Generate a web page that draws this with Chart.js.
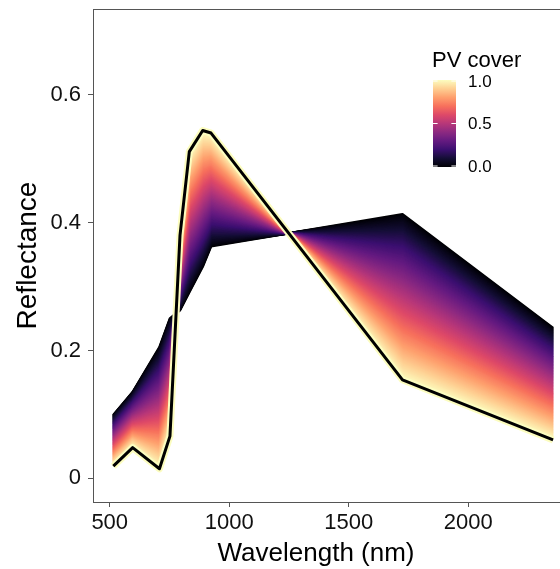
<!DOCTYPE html>
<html>
<head>
<meta charset="utf-8">
<script src="https://cdn.jsdelivr.net/npm/chart.js@4"></script>
<style>
  html, body { margin: 0; padding: 0; background: #fff; overflow: hidden; }
  #graf { display: block; }
</style>
</head>
<body>
<canvas id="graf" width="560" height="569"></canvas>
<script>
// espectros
const wavelength = [515, 596, 708, 752, 794, 833, 889, 924, 1725, 2355];
const reflPV0 = [0.099, 0.135, 0.205, 0.250, 0.263, 0.291, 0.331, 0.363, 0.413, 0.235];
const reflPV1 = [0.019, 0.048, 0.015, 0.066, 0.380, 0.511, 0.544, 0.540, 0.154, 0.060];
const pvSteps = 150;
const xTicks = [500, 1000, 1500, 2000];
const yTicks = [0, 0.2, 0.4, 0.6];
const legendTicks = [0, 0.5, 1];

// paleta magma (11 colores)
const magmaStops = ['#000004', '#140E36', '#3B0F70', '#641A80', '#8C2981', '#B73779',
                    '#DE4968', '#F7705C', '#FE9F6D', '#FECF92', '#FCFDBF'];

function hexRgb(h) {
    return [parseInt(h.slice(1, 3), 16), parseInt(h.slice(3, 5), 16), parseInt(h.slice(5, 7), 16)];
}
function magma(f) {
    const p = f * (magmaStops.length - 1);
    const i = Math.min(Math.floor(p), magmaStops.length - 2);
    const t = p - i;
    const a = hexRgb(magmaStops[i]), b = hexRgb(magmaStops[i + 1]);
    const c = a.map((v, k) => Math.round(v + (b[k] - v) * t));
    return `rgb(${c[0]},${c[1]},${c[2]})`;
}
function mezcla(f) {
    return wavelength.map((w, i) => ({ x: w, y: f * reflPV1[i] + (1 - f) * reflPV0[i] }));
}

const lineaBase = { pointRadius: 0, tension: 0, fill: false, borderJoinStyle: 'round' };
const datasets = [];
datasets.push({ ...lineaBase, data: mezcla(1), borderColor: '#000000', borderWidth: 3 });
datasets.push({ ...lineaBase, data: mezcla(1), borderColor: magma(1), borderWidth: 7 });
for (let i = pvSteps; i >= 0; i--) {
    const f = i / pvSteps;
    datasets.push({ ...lineaBase, data: mezcla(f), borderColor: magma(f), borderWidth: 2.5 });
}

const colorEje = '#555555';
const fuente = "'Liberation Sans', Arial, sans-serif";

// marco superior, titulo del eje x y barra de color
const extras = {
    id: 'extras',
    afterDraw(chart) {
        const ctx = chart.ctx;
        const area = chart.chartArea;
        ctx.save();
        ctx.strokeStyle = colorEje;
        ctx.lineWidth = 1;
        ctx.beginPath();
        ctx.moveTo(area.left, area.top + 0.5);
        ctx.lineTo(area.right, area.top + 0.5);
        ctx.stroke();

        ctx.fillStyle = '#000';
        ctx.font = `26px ${fuente}`;
        ctx.textAlign = 'center';
        ctx.textBaseline = 'alphabetic';
        ctx.fillText('Wavelength (nm)', 316, 561);

        // leyenda
        const bx = 433, bw = 23, top = 80, bottom = 167;
        const grad = ctx.createLinearGradient(0, bottom, 0, top);
        for (let k = 0; k <= 20; k++) grad.addColorStop(k / 20, magma(k / 20));
        ctx.fillStyle = grad;
        ctx.fillRect(bx, top, bw, bottom - top);

        ctx.fillStyle = '#000';
        ctx.font = `22px ${fuente}`;
        ctx.textAlign = 'left';
        ctx.fillText('PV cover', 432, 67);

        ctx.font = `17px ${fuente}`;
        ctx.textBaseline = 'middle';
        legendTicks.forEach(v => {
            const y = bottom - v * (bottom - top - 2) - 1;
            ctx.strokeStyle = '#ffffff';
            ctx.lineWidth = 1;
            ctx.beginPath();
            ctx.moveTo(bx, y); ctx.lineTo(bx + 4.6, y);
            ctx.moveTo(bx + bw - 4.6, y); ctx.lineTo(bx + bw, y);
            ctx.stroke();
            ctx.fillStyle = '#000';
            ctx.fillText(v.toFixed(1), 468, y + 1);
        });
        ctx.restore();
    }
};

new Chart(document.getElementById('graf').getContext('2d'), {
    type: 'line',
    data: { datasets: datasets },
    options: {
        responsive: false,
        animation: false,
        events: [],
        layout: { padding: { top: 9, right: 0, left: 0, bottom: 0 } },
        plugins: { legend: { display: false }, tooltip: { enabled: false } },
        scales: {
            x: {
                type: 'linear',
                min: 430,
                max: 2384,
                afterBuildTicks: s => { s.ticks = xTicks.map(v => ({ value: v })); },
                afterFit: s => { s.height = 67; s.paddingLeft = 0; s.paddingRight = 0; },
                ticks: { font: { size: 22, family: fuente }, color: '#111', padding: 3, maxRotation: 0,
                         callback: v => String(v) },
                grid: { drawOnChartArea: false, tickLength: 5, color: colorEje },
                border: { color: colorEje }
            },
            y: {
                type: 'linear',
                min: -0.037,
                max: 0.734,
                afterBuildTicks: s => { s.ticks = yTicks.map(v => ({ value: v })); },
                afterFit: s => { s.width = 93; s.paddingTop = 0; s.paddingBottom = 0; },
                ticks: { font: { size: 22, family: fuente }, color: '#111', padding: 7,
                         callback: v => v === 0 ? '0' : v.toFixed(1) },
                grid: { drawOnChartArea: false, tickLength: 5, color: colorEje },
                border: { color: colorEje },
                title: { display: true, text: 'Reflectance', color: '#000',
                         font: { size: 28, family: fuente }, padding: { top: 11, bottom: 0 } }
            }
        }
    },
    plugins: [extras]
});
</script>
</body>
</html>
